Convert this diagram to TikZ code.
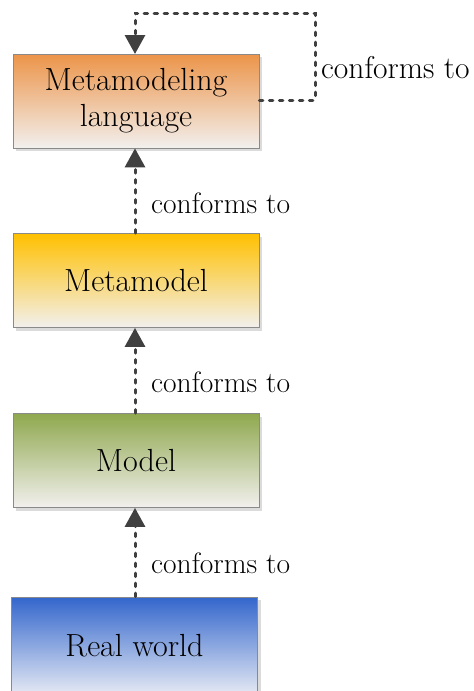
\documentclass[tikz,border=0pt]{standalone}
\usetikzlibrary{shadows,arrows.meta}
\definecolor{orangetop}{HTML}{EC9449}
\definecolor{goldtop}{HTML}{FFC000}
\definecolor{greentop}{HTML}{8FA84E}
\definecolor{bluetop}{HTML}{3366CC}
\definecolor{fadebot}{HTML}{F2F0EE}
\definecolor{bluebot}{HTML}{E6EAF4}
\definecolor{arrowgray}{HTML}{404040}
\definecolor{edgegray}{HTML}{8A8A8A}
\tikzset{
  levelbox/.style={rectangle, draw=edgegray, line width=0.8pt,
    minimum width=246pt, minimum height=94pt, inner sep=0pt, align=center,
    font=\fontsize{32}{36}\selectfont, bottom color=fadebot,
    drop shadow={shadow xshift=3pt, shadow yshift=-3pt, fill=black!14, opacity=1}},
  conn/.style={draw=arrowgray, line width=3pt, dash pattern=on 3.5pt off 6.5pt,
    line cap=round, -{Triangle[width=20pt,length=19pt,line cap=butt]}},
  lbl/.style={anchor=base west, inner sep=0pt, font=\fontsize{29.5}{36}\selectfont}
}
\begin{document}
\begin{tikzpicture}[x=1pt,y=-1pt]
\useasboundingbox (0,0) rectangle (474,691);
\clip (0,0) rectangle (474,691);
\fill[white] (0,0) rectangle (474,691);
\node[levelbox, top color=orangetop] (b1) at (136,101) {Metamodeling\\language};
\node[levelbox, top color=goldtop] (b2) at (136,280.5) {Metamodel};
\node[levelbox, top color=greentop] (b3) at (136,460.5) {Model};
\node[levelbox, top color=bluetop, bottom color=bluebot, minimum height=98pt] (b4) at (134.5,646) {Real world};
\path (b1.east) ++(0,-1) coordinate (lstart);
\coordinate (lc1) at (315,100);
\coordinate (lc2) at (315,13);
\coordinate (lc3) at (135,13);
\coordinate (lend) at (135,54);
\draw[conn] (lstart) -- (lc1) -- (lc2) -- (lc3) -- (lend);
\draw[conn] (b2.north -| 135,0) -- (b1.south -| 135,0);
\draw[conn] (b3.north -| 135,0) -- (b2.south -| 135,0);
\draw[conn] (b4.north -| 135,0) -- (b3.south -| 135,0);
\node[lbl, font=\fontsize{31.5}{36}\selectfont] (t0) at (321,78) {conforms to};
\node[lbl] (t1) at (151,213) {conforms to};
\node[lbl] (t2) at (151,392) {conforms to};
\node[lbl] (t3) at (151,573) {conforms to};
\end{tikzpicture}
\end{document}
